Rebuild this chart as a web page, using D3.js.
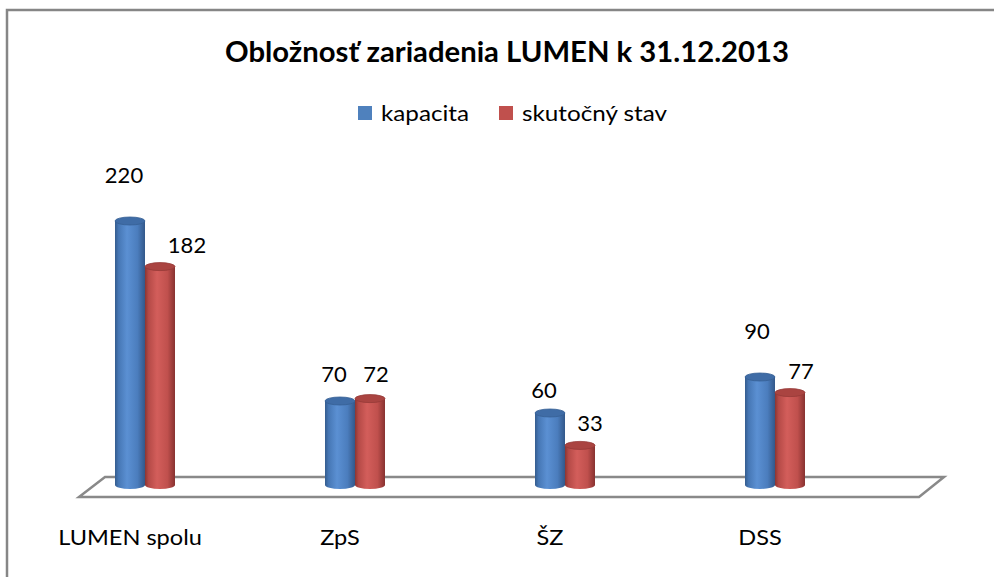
<!DOCTYPE html>
<html>
<head>
<meta charset="utf-8">
<script src="https://cdn.jsdelivr.net/npm/d3@7"></script>
<style>
  body { margin: 0; background: #fff; }
  text { font-family: Lato, "Liberation Sans", sans-serif; fill: #000; }
</style>
</head>
<body>
<div class="container"></div>
<script>
// data
const categories = ['LUMEN spolu', 'ZpS', 'ŠZ', 'DSS']
const seriesNames = ['kapacita', 'skutočný stav']
const kapacita = [220, 70, 60, 90]
const skutocny = [182, 72, 33, 77]
const title = 'Obložnosť zariadenia LUMEN k 31.12.2013'

// label nudges (excel 3d puts them a bit everywhere)
const labelNudge = [
  [[-6, -38], [-6, -19], [-6, -15], [-3, -38]],
  [[27, -14], [6, -17], [10, -14], [11, -14]]
]

const W = 994, H = 577
const svg = d3.select('.container').append('svg')
  .attr('width', W).attr('height', H)

const values = [kapacita, skutocny]

const x = d3.scaleBand().domain(categories).range([40, 880])
const xSub = d3.scaleBand().domain(seriesNames).range([-30, 30])
const y = d3.scaleLinear().domain([0, 220]).range([485, 221])

// frame (cut by the window on the right and bottom)
svg.append('rect')
  .attr('x', 7).attr('y', 10).attr('width', 1100).attr('height', 700)
  .attr('fill', 'none').attr('stroke', '#868686').attr('stroke-width', 2.5)

// title
svg.append('text')
  .attr('x', 225).attr('y', 62)
  .attr('font-size', 28).attr('font-weight', 'bold')
  .attr('textLength', 564).attr('lengthAdjust', 'spacingAndGlyphs')
  .text(title)

// gradients
const defs = svg.append('defs')
const palette = [
  { stops: ['#345c8e', '#4677b5', '#5b90d3', '#4b7dbd', '#33588a'], top: '#3f6ca6', rim: '#365f94', key: '#4f81bd' },
  { stops: ['#8c3532', '#b54a47', '#d35e5b', '#c0504d', '#883230'], top: '#aa4441', rim: '#953a37', key: '#c0504d' }
]
palette.forEach((p, i) => {
  const g = defs.append('linearGradient').attr('id', 'body' + i)
    .attr('x1', 0).attr('x2', 1).attr('y1', 0).attr('y2', 0)
  const offs = [0, 0.12, 0.4, 0.75, 1]
  p.stops.forEach((c, k) => g.append('stop').attr('offset', offs[k]).attr('stop-color', c))
})

// legend
const legend = svg.append('g')
const legendX = [358, 499]
const legendW = [88, 145]
seriesNames.forEach((s, i) => {
  legend.append('rect')
    .attr('x', legendX[i]).attr('y', 106).attr('width', 14).attr('height', 14)
    .attr('fill', palette[i].key)
  legend.append('text')
    .attr('x', legendX[i] + 23).attr('y', 121)
    .attr('font-size', 22)
    .attr('textLength', legendW[i]).attr('lengthAdjust', 'spacingAndGlyphs')
    .text(s)
})

// floor
const x0 = x.range()[0] + 39, x1 = x.range()[1] + 39
const yf = y(0) + 12, yb = y(0) - 8
svg.append('path')
  .attr('d', `M${x0},${yf}L${x1},${yf}L${x1 + 25},${yb}L${x0 + 26},${yb}Z`)
  .attr('fill', 'none').attr('stroke', '#898989').attr('stroke-width', 2.5)
  .attr('stroke-linejoin', 'miter')

// cylinders
const bw = xSub.bandwidth(), rx = bw / 2, ry = 4
seriesNames.forEach((s, si) => {
  const g = svg.append('g')
  categories.forEach((c, ci) => {
    const left = x(c) + x.bandwidth() / 2 + xSub(s)
    const right = left + bw
    const top = y(values[si][ci])
    const bot = y(0)
    g.append('path')
      .attr('d', `M${left},${top}L${left},${bot}A${rx},${ry} 0 0 0 ${right},${bot}L${right},${top}Z`)
      .attr('fill', `url(#body${si})`)
    g.append('ellipse')
      .attr('cx', left + rx).attr('cy', top).attr('rx', rx).attr('ry', ry)
      .attr('fill', palette[si].top).attr('stroke', palette[si].rim).attr('stroke-width', 0.8)
  })
})

// data labels
seriesNames.forEach((s, si) => {
  categories.forEach((c, ci) => {
    const cx = x(c) + x.bandwidth() / 2 + xSub(s) + bw / 2
    const v = values[si][ci]
    svg.append('text')
      .attr('x', cx + labelNudge[si][ci][0])
      .attr('y', y(v) + labelNudge[si][ci][1])
      .attr('text-anchor', 'middle')
      .attr('font-size', 22)
      .text(v)
  })
})

// category labels, a touch wider like the stretched original
svg.append('g').selectAll('text').data(categories).join('text')
  .attr('x', d => x(d) + x.bandwidth() / 2 - 15)
  .attr('y', 545)
  .attr('text-anchor', 'middle')
  .attr('font-size', 22)
  .text(d => d)
  .each(function() {
    const w = this.getComputedTextLength()
    d3.select(this).attr('textLength', w * 1.07).attr('lengthAdjust', 'spacingAndGlyphs')
  })
</script>
</body>
</html>
